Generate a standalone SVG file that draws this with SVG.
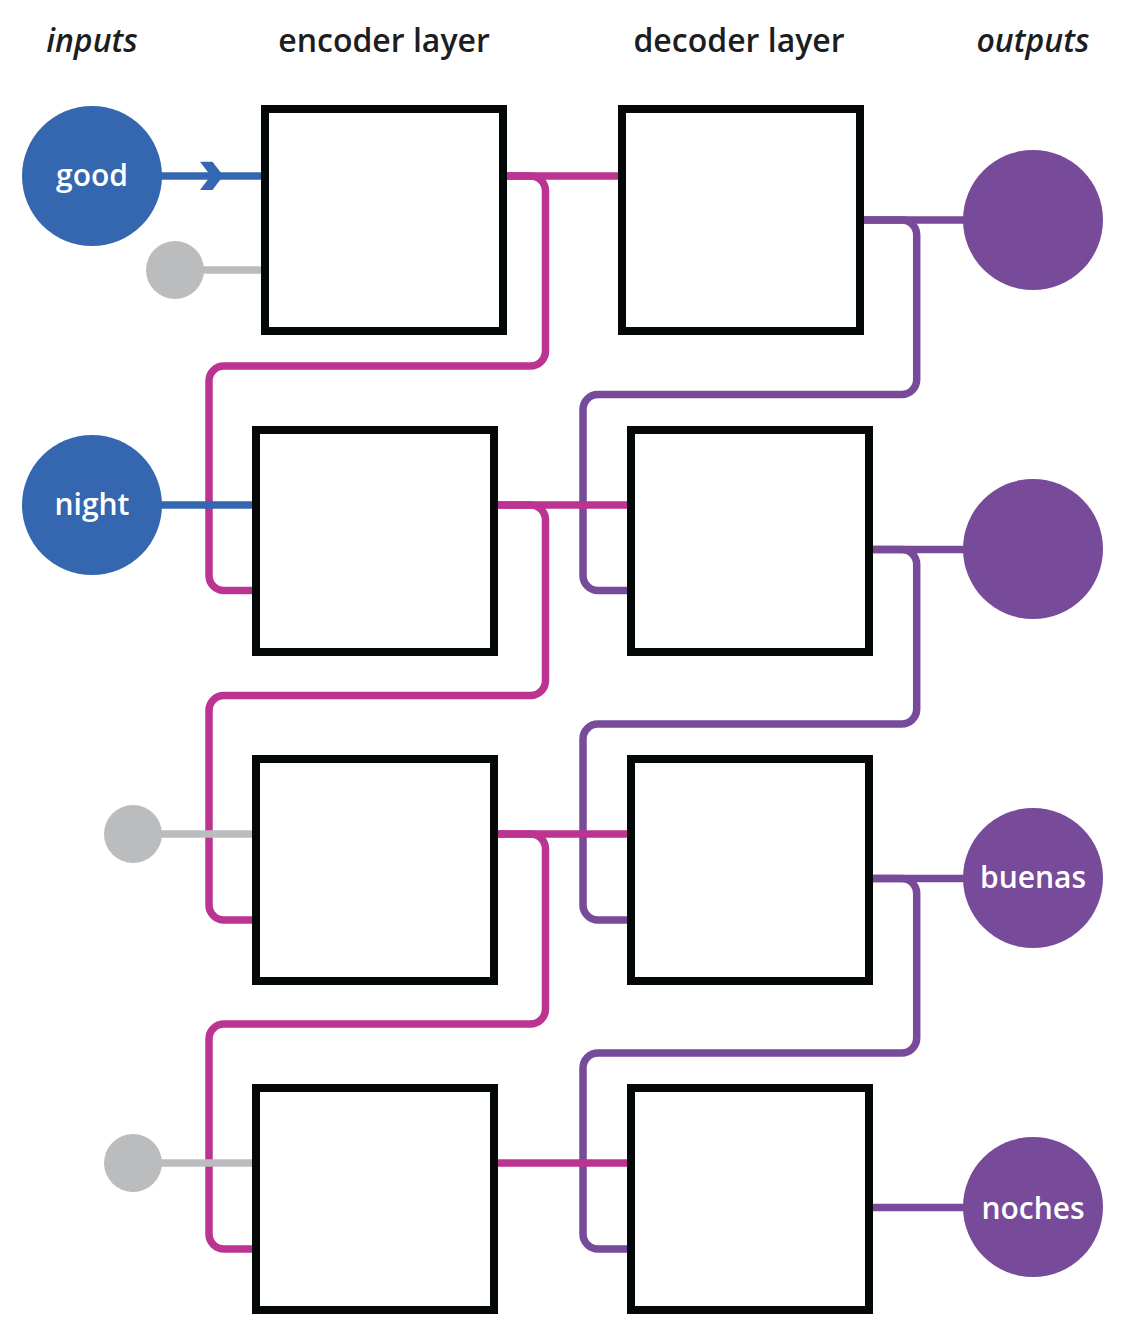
<svg xmlns="http://www.w3.org/2000/svg" width="1125" height="1344" viewBox="0 0 1125 1344">
<style>
.hdr{font-family:"Open Sans","Liberation Sans",sans-serif;font-size:32px;font-weight:600;fill:#1d1d1f;text-anchor:middle}
.it{font-style:italic}
.lbl{font-family:"Open Sans","Liberation Sans",sans-serif;font-size:30px;font-weight:600;fill:#ffffff;text-anchor:middle}
.box{fill:#ffffff;stroke:#050808;stroke-width:8}
.ln{fill:none;stroke-width:7.5}
.pink{stroke:#bc3491}
.purp{stroke:#774a9a}
.blue{stroke:#3567b0}
.gray{stroke:#bbbcbe}
.cin{fill:#3567b0}
.cout{fill:#774a9a}
.cgray{fill:#bbbcbe}
</style>
<rect width="1125" height="1344" fill="#ffffff"/>
<g id="headers">
<text class="hdr it" x="92" y="52">inputs</text>
<text class="hdr" x="384" y="52">encoder layer</text>
<text class="hdr" x="739" y="52">decoder layer</text>
<text class="hdr it" x="1033" y="52">outputs</text>
</g>
<g id="connectors">
<path class="ln purp" d="M860,220 H901.7 A15,15 0 0 1 916.7,235 V379.5 A15,15 0 0 1 901.7,394.5 H598 A15,15 0 0 0 583,409.5 V575.5 A15,15 0 0 0 598,590.5 H631"/>
<path class="ln purp" d="M869,549.5 H901.7 A15,15 0 0 1 916.7,564.5 V709 A15,15 0 0 1 901.7,724 H598 A15,15 0 0 0 583,739 V905 A15,15 0 0 0 598,920 H631"/>
<path class="ln purp" d="M869,878.5 H901.7 A15,15 0 0 1 916.7,893.5 V1038 A15,15 0 0 1 901.7,1053 H598 A15,15 0 0 0 583,1068 V1234 A15,15 0 0 0 598,1249 H631"/>
<path class="ln pink" d="M503,176 H530.5 A15,15 0 0 1 545.5,191 V351 A15,15 0 0 1 530.5,366 H224 A15,15 0 0 0 209,381 V575.5 A15,15 0 0 0 224,590.5 H256"/>
<path class="ln pink" d="M494,505 H530.5 A15,15 0 0 1 545.5,520 V680.5 A15,15 0 0 1 530.5,695.5 H224 A15,15 0 0 0 209,710.5 V905 A15,15 0 0 0 224,920 H256"/>
<path class="ln pink" d="M494,834 H530.5 A15,15 0 0 1 545.5,849 V1009 A15,15 0 0 1 530.5,1024 H224 A15,15 0 0 0 209,1039 V1234 A15,15 0 0 0 224,1249 H256"/>
<path class="ln pink" d="M503,176 H622"/>
<path class="ln pink" d="M494,505 H631"/>
<path class="ln pink" d="M494,834 H631"/>
<path class="ln pink" d="M494,1163 H631"/>
<path class="ln purp" d="M860,220 H965"/>
<path class="ln purp" d="M869,549.5 H965"/>
<path class="ln purp" d="M869,878.5 H965"/>
<path class="ln purp" d="M869,1207.5 H965"/>
<path class="ln blue" d="M155,176 H265"/>
<polygon fill="#3567b0" points="200,161.7 212.5,161.7 223.2,175.7 212.5,190 200,190 210.7,175.7"/>
<path class="ln gray" d="M190,270 H265"/>
<path class="ln blue" d="M155,505 H256"/>
<path class="ln gray" d="M150,834 H256"/>
<path class="ln gray" d="M150,1163 H256"/>
</g>
<g id="in-good"><circle class="cin" cx="92" cy="176" r="70"/><text class="lbl" x="92" y="186">good</text></g>
<g id="in-pad1"><circle class="cgray" cx="175" cy="270" r="29"/></g>
<g id="in-night"><circle class="cin" cx="92" cy="505" r="70"/><text class="lbl" x="92" y="515">night</text></g>
<g id="in-pad3"><circle class="cgray" cx="133" cy="834" r="29"/></g>
<g id="in-pad4"><circle class="cgray" cx="133" cy="1163" r="29"/></g>
<g id="enc1"><rect class="box" x="265" y="109" width="238" height="222"/></g>
<g id="enc2"><rect class="box" x="256" y="430" width="238" height="222"/></g>
<g id="enc3"><rect class="box" x="256" y="759" width="238" height="222"/></g>
<g id="enc4"><rect class="box" x="256" y="1088" width="238" height="222"/></g>
<g id="dec1"><rect class="box" x="622" y="109" width="238" height="222"/></g>
<g id="dec2"><rect class="box" x="631" y="430" width="238" height="222"/></g>
<g id="dec3"><rect class="box" x="631" y="759" width="238" height="222"/></g>
<g id="dec4"><rect class="box" x="631" y="1088" width="238" height="222"/></g>
<g id="out1"><circle class="cout" cx="1033" cy="220" r="70"/></g>
<g id="out2"><circle class="cout" cx="1033" cy="549" r="70"/></g>
<g id="out3"><circle class="cout" cx="1033" cy="878" r="70"/><text class="lbl" x="1033" y="888">buenas</text></g>
<g id="out4"><circle class="cout" cx="1033" cy="1207" r="70"/><text class="lbl" x="1033" y="1219">noches</text></g>
</svg>
